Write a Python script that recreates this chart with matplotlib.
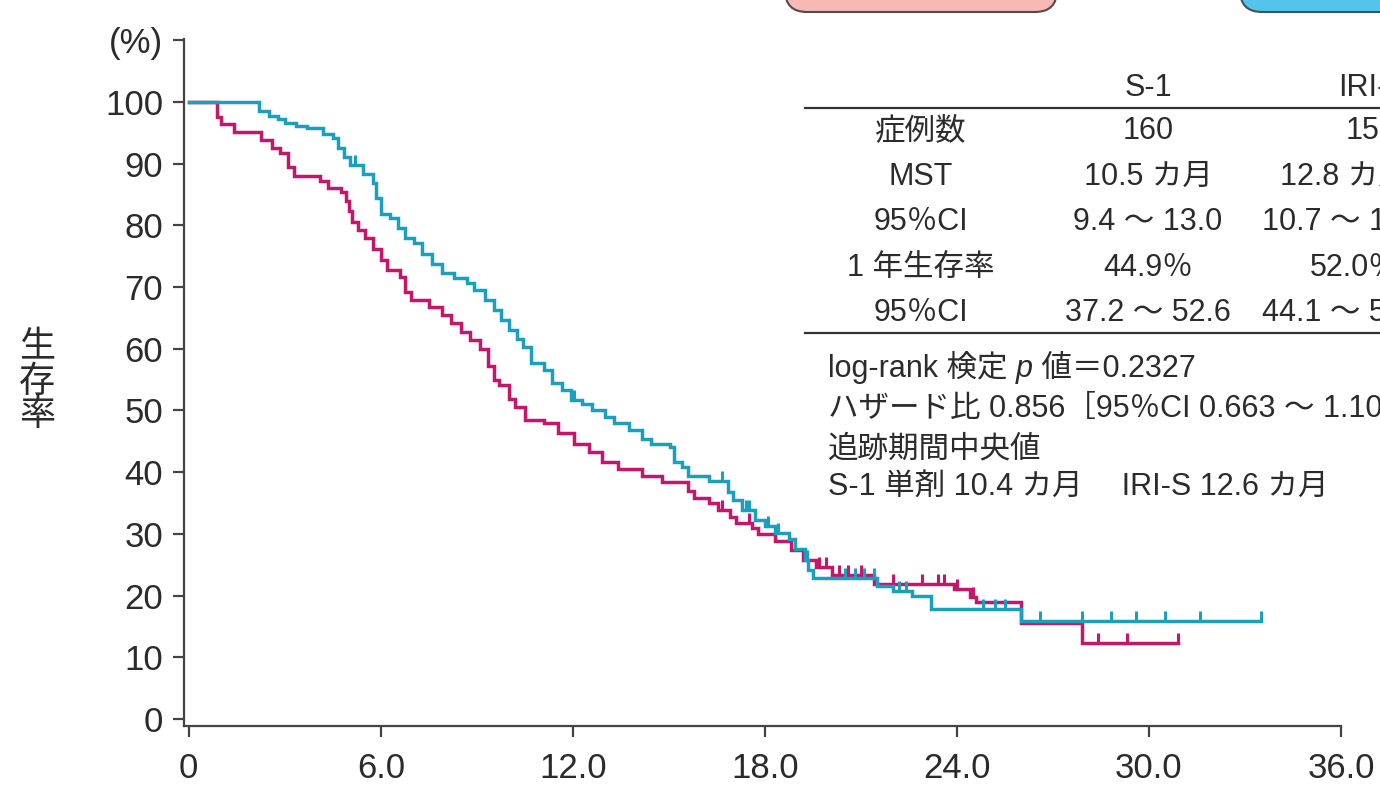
import numpy as np
import matplotlib.pyplot as plt
from matplotlib.patches import FancyBboxPatch

plt.rcParams['font.family'] = ['Liberation Sans', 'Noto Sans CJK JP', 'DejaVu Sans']

W, H = 1380, 789

# Kaplan-Meier steps: month of each drop and % alive after it
s1_times = [0, 0.88, 1.0, 1.4, 2.25, 2.6, 2.85, 3.1, 3.3, 4.1, 4.35, 4.75, 4.9, 5.0,
            5.1, 5.3, 5.5, 5.75, 6.0, 6.2, 6.6, 6.75, 6.95, 7.5, 7.9, 8.2, 8.5, 8.8,
            9.1, 9.35, 9.55, 9.7, 10.0, 10.2, 10.5, 11.1, 11.55, 12.05, 12.5, 12.9,
            13.4, 14.15, 14.8, 15.6, 15.8, 16.25, 16.55, 16.9, 17.1, 17.6, 17.8,
            18.3, 18.8, 19.2, 19.6, 20.1, 21.4, 23.9, 24.4, 24.6, 26.0, 27.9]
s1_surv = [100, 97.6, 96.4, 95.2, 93.8, 92.6, 91.8, 89.5, 88.0, 87.2, 86.1, 85.4, 84.0, 82.4,
           80.5, 79.2, 78.0, 76.2, 74.4, 72.8, 71.6, 69.2, 67.9, 66.8, 65.5, 64.1, 62.7, 61.4,
           60.0, 57.2, 55.0, 54.2, 51.9, 50.6, 48.5, 47.9, 46.4, 44.6, 43.2, 41.6,
           40.5, 39.4, 38.4, 37.0, 35.8, 35.0, 33.9, 32.8, 31.8, 30.9, 29.9,
           28.8, 27.4, 25.8, 24.6, 23.4, 21.9, 21.0, 19.7, 18.9, 15.5, 12.3]
s1_censor = [16.65, 17.5, 19.7, 19.9, 20.3, 20.6, 21.0, 22.0, 22.9, 23.4, 23.6, 24.0,
             24.5, 28.4, 29.3, 30.9]

iri_times = [0, 2.2, 2.5, 2.8, 3.0, 3.35, 3.7, 4.2, 4.5, 4.65, 4.85, 5.05, 5.45, 5.75,
             5.85, 6.0, 6.3, 6.55, 6.75, 7.05, 7.3, 7.6, 7.9, 8.3, 8.7, 8.9, 9.25, 9.55,
             9.75, 10.0, 10.25, 10.45, 10.7, 11.1, 11.35, 11.65, 11.95, 12.3, 12.6, 13.0,
             13.3, 13.75, 14.15, 14.45, 15.05, 15.15, 15.4, 15.6, 16.25, 16.85, 17.0,
             17.3, 17.7, 18.0, 18.3, 18.75, 18.95, 19.25, 19.35, 19.5, 21.5, 22.0, 22.6,
             23.2, 26.0]
iri_surv = [100, 98.5, 97.7, 97.2, 96.6, 96.1, 95.7, 94.8, 94.2, 92.6, 91.0, 89.7, 88.4, 86.8,
            84.5, 81.9, 81.2, 79.6, 78.0, 77.1, 75.4, 73.8, 72.2, 71.5, 70.6, 69.5, 67.9, 66.2,
            64.6, 63.0, 61.6, 60.2, 57.7, 56.5, 54.4, 53.3, 51.7, 51.1, 50.1, 49.0,
            48.0, 46.8, 45.4, 44.6, 44.0, 41.6, 40.9, 39.3, 38.6, 36.7, 35.5,
            33.9, 32.3, 31.2, 30.2, 29.1, 27.5, 25.8, 24.2, 22.8, 21.6, 20.7, 20.0,
            17.8, 15.8]
iri_censor = [5.2, 12.05, 16.65, 17.4, 17.5, 18.1, 18.4, 19.3, 20.5, 20.8, 21.1, 21.4,
              22.2, 22.4, 24.8, 25.2, 25.5, 26.6, 27.9, 28.8, 29.6, 30.5, 31.6, 33.5]

x_ticks = [0, 6, 12, 18, 24, 30, 36]
x_labels = ['0', '6.0', '12.0', '18.0', '24.0', '30.0', '36.0']
y_ticks = list(range(0, 111, 10))
y_labels = [str(v) for v in range(0, 101, 10)] + ['(%)']

row_names = ['症例数', 'MST', '95％CI', '1 年生存率', '95％CI']
s1_col = ['160', '10.5 カ月', '9.4 ～ 13.0', '44.9％', '37.2 ～ 52.6']
iri_col = ['155', '12.8 カ月', '10.7 ～ 15.1', '52.0％', '44.1 ～ 59.6']
notes = ['追跡期間中央値', 'S-1 単剤 10.4 カ月　 IRI-S 12.6 カ月']

c_s1 = '#c2176b'
c_iri = '#1c9fbd'
ink = '#2b2b2b'


def fx(px):
    return px / W


def fy(py):
    return 1 - py / H


fig = plt.figure(figsize=(W / 100, H / 100), dpi=100)
ax = fig.add_axes([fx(184), fy(726), fx(1341) - fx(184), fy(39) - fy(726)])

for times, surv, cens, col in [(s1_times, s1_surv, s1_censor, c_s1),
                               (iri_times, iri_surv, iri_censor, c_iri)]:
    t = list(times) + [cens[-1]]
    s = list(surv) + [surv[-1]]
    ax.step(t, s, where='post', color=col, lw=2.5, solid_joinstyle='miter')
    idx = np.searchsorted(times, cens, side='right') - 1
    ax.plot(cens, np.array(surv)[idx], ls='none', marker=[(0, 0), (0, 1)],
            ms=15, mew=2.2, mec=col, color=col)

ax.set_xlim(-0.15, 36)
ax.set_ylim(-1.15, 110.2)
ax.set_xticks(x_ticks)
ax.set_xticklabels(x_labels)
ax.set_yticks(y_ticks)
ax.set_yticklabels(y_labels)
for side in ['top', 'right']:
    ax.spines[side].set_visible(False)
for side in ['left', 'bottom']:
    ax.spines[side].set_color('#444444')
    ax.spines[side].set_linewidth(1.6)
ax.tick_params(axis='both', colors='#444444', labelcolor=ink, labelsize=25,
               length=8, width=1.6, pad=7)
ax.tick_params(axis='x', pad=11)

fig.text(fx(37), fy(382), '生\n存\n率', fontsize=26, color=ink, ha='center', va='center',
         linespacing=0.95)

# header boxes cut by the top edge
fig.add_artist(FancyBboxPatch((7.85, 7.77), 2.72, 0.6, transform=fig.dpi_scale_trans,
                              boxstyle='round,pad=0,rounding_size=0.22',
                              fc='#f6b9b6', ec='#5a4848', lw=1.5))
fig.add_artist(FancyBboxPatch((12.40, 7.77), 2.2, 0.6, transform=fig.dpi_scale_trans,
                              boxstyle='round,pad=0,rounding_size=0.22',
                              fc='#55c4ea', ec='#3d5360', lw=1.5))

# summary table
fig.text(fx(1148), fy(88), 'S-1', fontsize=22, color=ink, ha='center', va='center')
fig.text(fx(1338), fy(88), 'IRI-S', fontsize=22, color=ink, ha='left', va='center')
for py in [108, 333]:
    fig.add_artist(plt.Line2D([fx(805), fx(1380)], [fy(py), fy(py)], color='#333333', lw=1.6))

row_y = [131, 177, 222, 268, 313]
iri_x = [1346, 1280, 1262, 1310, 1262]
for name, a, b, py, bx in zip(row_names, s1_col, iri_col, row_y, iri_x):
    fig.text(fx(921), fy(py), name, fontsize=22, color=ink, ha='center', va='center')
    fig.text(fx(1148), fy(py), a, fontsize=22, color=ink, ha='center', va='center')
    fig.text(fx(bx), fy(py), b, fontsize=22, color=ink, ha='left', va='center')

t1 = fig.text(fx(828), fy(367), 'log-rank 検定 ', fontsize=22, color=ink, va='center')
t2 = ax.annotate('p', xy=(1, 0), xycoords=t1, va='bottom', fontsize=22, color=ink,
                 style='italic')
ax.annotate(' 値＝0.2327', xy=(1, 0), xycoords=t2, va='bottom', fontsize=22, color=ink)
fig.text(fx(828), fy(409), 'ハザード比 0.856［95％CI 0.663 ～ 1.105］', fontsize=22,
         color=ink, va='center')
for line, py in zip(notes, [449, 487]):
    fig.text(fx(828), fy(py), line, fontsize=22, color=ink, va='center')

fig.savefig('out.png', dpi=100)
